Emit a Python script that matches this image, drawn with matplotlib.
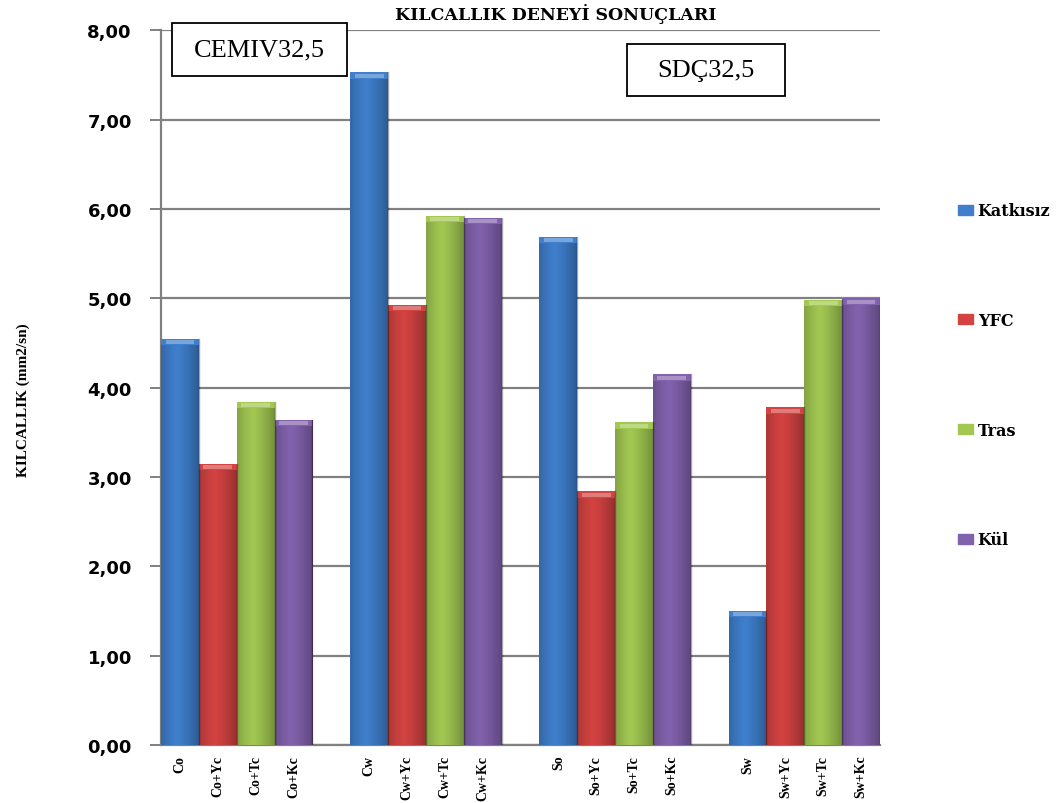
import numpy as np
import matplotlib.pyplot as plt
import matplotlib.colors as mcolors
from matplotlib.patches import Patch, Rectangle

# kılcallık deney sonuçları (mm2/sn)
gruplar = ['Co', 'Cw', 'So', 'Sw']
seriler = ['Katkısız', 'YFC', 'Tras', 'Kül']
etiketler = ['Co', 'Co+Yc', 'Co+Tc', 'Co+Kc',
             'Cw', 'Cw+Yc', 'Cw+Tc', 'Cw+Kc',
             'So', 'So+Yc', 'So+Tc', 'So+Kc',
             'Sw', 'Sw+Yc', 'Sw+Tc', 'Sw+Kc']
degerler = [4.55, 3.15, 3.84, 3.64,
            7.53, 4.93, 5.92, 5.90,
            5.69, 2.84, 3.61, 4.15,
            1.50, 3.78, 4.98, 5.00]
renkler = ['#3f7fcc', '#d24341', '#a2c852', '#8262ad']

serif = ['Liberation Serif', 'DejaVu Serif']
genis_serif = ['DejaVu Serif']

fig = plt.figure(figsize=(10.62, 8.04), dpi=100)
ax = fig.add_axes([0.1516, 0.0721, 0.677, 0.889])

# her grupta 4 çubuk, gruplar arasında bir çubuk boşluk
x = np.array([g * 5 + i for g in range(len(gruplar)) for i in range(len(seriler))], dtype=float)
bar_renk = [renkler[i % 4] for i in range(len(etiketler))]

bars = ax.bar(x, degerler, width=1.0, color=bar_renk, edgecolor='none', zorder=2)


def gradyan(renk):
    # kenarlarda koyu, ortada açık yatay geçiş
    c = np.array(mcolors.to_rgb(renk))
    t = np.linspace(0, 1, 64)
    k = 1 - 0.28 * np.abs(t - 0.42) ** 1.3 * 2
    k = np.clip(k, 0.6, 1.05)
    img = np.clip(c[None, :] * k[:, None], 0, 1)
    return img[None, :, :]


for b, renk in zip(bars, bar_renk):
    x0 = b.get_x()
    w = b.get_width()
    h = b.get_height()
    im = ax.imshow(gradyan(renk), extent=(x0, x0 + w, 0, h), aspect='auto',
                   zorder=3, interpolation='bicubic')
    im.set_clip_path(b)
    # üst kapak
    ax.add_patch(Rectangle((x0, h - 0.07), w, 0.07,
                           color=mcolors.to_rgb(renk), zorder=4, ec='none'))
    ax.add_patch(Rectangle((x0 + 0.12, h - 0.06), w - 0.24, 0.045,
                           color='white', alpha=0.3, zorder=5, ec='none'))
    ax.plot([x0 + w, x0 + w], [0, h], color='black', alpha=0.35, lw=1, zorder=5)

ax.set_xlim(-0.5, x[-1] + 0.5)
ax.set_ylim(0, 8)
ax.set_yticks(np.arange(0, 9, 1))
ax.set_yticklabels([f'{v:.2f}'.replace('.', ',') for v in range(9)],
                   fontsize=13, fontweight='bold', family=['DejaVu Sans'])
ax.yaxis.grid(True, color='#808080', lw=1.6, zorder=1)
ax.set_axisbelow(True)
ax.tick_params(axis='y', length=8, width=1.4, color='#808080', pad=13)

ax.set_xticks(x)
ax.set_xticklabels(etiketler, rotation=90, fontsize=10, fontweight='bold', family=serif)
ax.tick_params(axis='x', length=0, pad=7)

for s in ['top', 'right']:
    ax.spines[s].set_visible(False)
ax.spines['left'].set_color('#808080')
ax.spines['left'].set_linewidth(1.6)
ax.spines['bottom'].set_color('#808080')
ax.spines['bottom'].set_linewidth(1.6)

fig.text(0.523, 0.982, 'KILCALLIK DENEYİ SONUÇLARI', ha='center', va='center',
         fontsize=12.5, fontweight='bold', family=genis_serif)
fig.text(0.022, 0.5025, 'KILCALLIK (mm2/sn)', rotation=90, ha='center', va='center',
         fontsize=11, fontweight='bold', family=serif)


def etiket_kutusu(x0, y0, x1, y1, metin):
    # piksel koordinatlarında çerçeveli metin
    W, H = 1062, 804
    fig.add_artist(Rectangle((x0 / W, 1 - y1 / H), (x1 - x0) / W, (y1 - y0) / H,
                             transform=fig.transFigure, fc='white', ec='black',
                             lw=1.3, zorder=10))
    fig.text((x0 + x1) / 2 / W, 1 - (y0 + y1) / 2 / H, metin, ha='center',
             va='center', fontsize=19, family=serif, zorder=11)


etiket_kutusu(172, 24, 347, 77, 'CEMIV32,5')
etiket_kutusu(627, 45, 785, 97, 'SDÇ32,5')

handles = [Patch(facecolor=c, edgecolor=mcolors.to_rgb(c)) for c in renkler]
fig.legend(handles, seriler, loc='upper left', bbox_to_anchor=(0.889, 0.765),
           frameon=False, prop={'family': genis_serif, 'weight': 'bold', 'size': 11.5},
           handlelength=0.9, handleheight=0.6, handletextpad=0.3, labelspacing=5.8)

fig.savefig('out.png', dpi=100)
